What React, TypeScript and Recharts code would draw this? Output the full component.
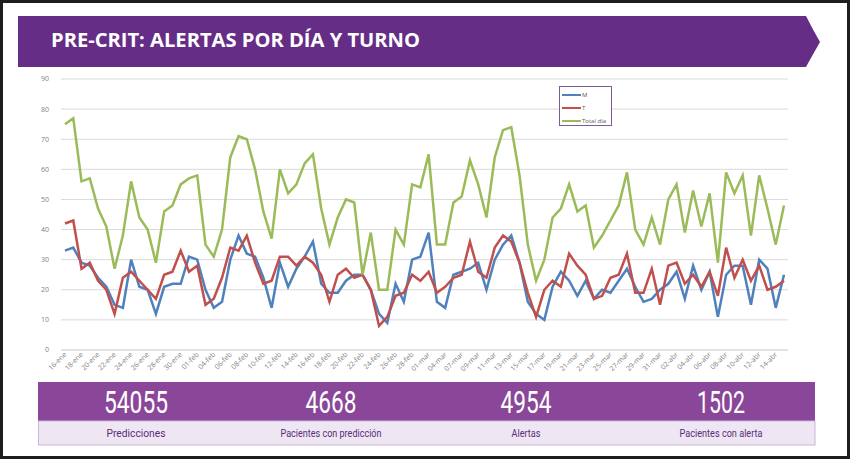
import { LineChart, Line, XAxis, YAxis, CartesianGrid } from 'recharts';

const dates = [
  '16-ene', '17-ene', '18-ene', '19-ene', '20-ene', '21-ene', '22-ene', '23-ene', '24-ene', '25-ene',
  '26-ene', '27-ene', '28-ene', '29-ene', '30-ene', '31-ene', '01-feb', '03-feb', '04-feb', '05-feb',
  '06-feb', '07-feb', '08-feb', '09-feb', '10-feb', '11-feb', '12-feb', '13-feb', '14-feb', '15-feb',
  '16-feb', '17-feb', '18-feb', '19-feb', '20-feb', '21-feb', '22-feb', '23-feb', '24-feb', '25-feb',
  '26-feb', '27-feb', '28-feb', '29-feb', '01-mar', '03-mar', '04-mar', '06-mar', '07-mar', '08-mar',
  '09-mar', '10-mar', '11-mar', '12-mar', '13-mar', '14-mar', '15-mar', '16-mar', '17-mar', '18-mar',
  '19-mar', '20-mar', '21-mar', '22-mar', '23-mar', '24-mar', '25-mar', '26-mar', '27-mar', '28-mar',
  '29-mar', '30-mar', '31-mar', '01-abr', '02-abr', '03-abr', '04-abr', '05-abr', '06-abr', '07-abr',
  '08-abr', '09-abr', '10-abr', '11-abr', '12-abr', '13-abr', '14-abr', '15-abr',
];

const manana = [
  33, 34, 29, 28, 24, 21, 15, 14, 30, 21,
  20, 12, 21, 22, 22, 31, 30, 20, 14, 16,
  30, 38, 32, 31, 24, 14, 29, 21, 27, 31,
  36, 22, 19, 19, 23, 25, 25, 20, 12, 9,
  22, 16, 30, 31, 39, 16, 14, 25, 26, 27,
  29, 20, 30, 35, 38, 29, 16, 12, 10, 21,
  26, 23, 18, 23, 17, 20, 19, 23, 27, 21,
  16, 17, 20, 22, 26, 17, 28, 20, 26, 11,
  25, 28, 28, 15, 30, 27, 14, 25,
];

const tarde = [
  42, 43, 27, 29, 23, 20, 12, 24, 26, 23,
  20, 17, 25, 26, 33, 26, 28, 15, 17, 24,
  34, 33, 38, 29, 22, 23, 31, 31, 28, 31,
  29, 25, 16, 25, 27, 24, 25, 20, 8, 11,
  18, 19, 25, 23, 26, 19, 21, 24, 25, 36,
  26, 24, 34, 38, 36, 29, 19, 11, 20, 23,
  21, 32, 28, 25, 17, 18, 24, 25, 32, 19,
  19, 27, 15, 28, 29, 22, 25, 21, 26, 18,
  34, 24, 30, 23, 28, 20, 21, 23,
];

const totalDia = [
  75, 77, 56, 57, 47, 41, 27, 38, 56, 44,
  40, 29, 46, 48, 55, 57, 58, 35, 31, 40,
  64, 71, 70, 60, 46, 37, 60, 52, 55, 62,
  65, 47, 35, 44, 50, 49, 25, 39, 20, 20,
  40, 35, 55, 54, 65, 35, 35, 49, 51, 63,
  55, 44, 64, 73, 74, 58, 35, 23, 30, 44,
  47, 55, 46, 48, 34, 38, 43, 48, 59, 40,
  35, 44, 35, 50, 55, 39, 53, 41, 52, 29,
  59, 52, 58, 38, 58, 47, 35, 48,
];

const yTicks = [0, 10, 20, 30, 40, 50, 60, 70, 80, 90];

const kpiValues = ['54055', '4668', '4954', '1502'];
const kpiLabels = ['Predicciones', 'Pacientes con predicción', 'Alertas', 'Pacientes con alerta'];

const BLUE = '#4F81BD';
const RED = '#C0504D';
const GREEN = '#9BBB59';
const PURPLE_DARK = '#652D86';
const PURPLE_KPI = '#8A4799';

const chartData = dates.map((d, i) => ({
  date: d,
  M: manana[i],
  T: tarde[i],
  total: totalDia[i],
}));

const DateTick = ({ x, y, payload }: any) => (
  <text
    x={x + 2}
    y={y + 3}
    transform={`rotate(-45, ${x + 2}, ${y + 3})`}
    textAnchor="end"
    fontSize={7}
    fill="#7f7f7f"
    fontFamily="'Open Sans', sans-serif"
  >
    {payload.value}
  </text>
);

const legendItems = [
  { name: 'M', color: BLUE },
  { name: 'T', color: RED },
  { name: 'Total día', color: GREEN },
];

// legend box drawn on top of the plot, like the excel one
const LegendBox = () => (
  <div
    style={{
      position: 'absolute',
      left: 559,
      top: 86,
      width: 53,
      height: 40,
      border: '1px solid #7a5c99',
      background: '#fff',
      fontFamily: "'Open Sans', sans-serif",
      fontSize: 6,
      lineHeight: '6px',
      color: '#595959',
      paddingTop: 1,
      boxSizing: 'border-box',
    }}
  >
    {legendItems.map((it) => (
      <div key={it.name} style={{ display: 'flex', alignItems: 'center', height: 13 }}>
        <span style={{ display: 'inline-block', width: 19, height: 2, background: it.color, marginLeft: 2, marginRight: 1 }} />
        <span>{it.name}</span>
      </div>
    ))}
  </div>
);

const kpiCenters = [136, 331, 526, 721];
const kpiValueWidths = [64, 51, 51, 48];
const kpiLabelWidths = [59, 101, 29, 83];

export default function App() {
  return (
    <div style={{ position: 'fixed', left: 0, top: 0, width: 850, height: 459, background: '#1e1e1e', overflow: 'hidden' }}>
      <div style={{ position: 'absolute', left: 3, top: 3, width: 844, height: 453, background: '#fff' }} />

      <div style={{ position: 'absolute', left: 0, top: 0 }}>
        <LineChart
          width={850}
          height={400}
          data={chartData}
          margin={{ top: 79, right: 62, bottom: 20, left: 41 }}
        >
          <CartesianGrid vertical={false} stroke="#d9d9d9" />
          <XAxis
            dataKey="date"
            interval={1}
            tick={<DateTick />}
            tickLine={false}
            tickSize={0}
            tickMargin={2}
            height={30}
            axisLine={{ stroke: '#d9d9d9' }}
            padding={{ left: 4, right: 4 }}
          />
          <YAxis
            domain={[0, 90]}
            ticks={yTicks}
            width={20}
            tickLine={false}
            axisLine={false}
            tickMargin={6}
            tick={{ fontSize: 7, fill: '#7f7f7f', fontFamily: "'Open Sans', sans-serif" }}
          />
          <Line type="linear" dataKey="M" name="M" stroke={BLUE} strokeWidth={2.5} dot={false} isAnimationActive={false} />
          <Line type="linear" dataKey="T" name="T" stroke={RED} strokeWidth={2.5} dot={false} isAnimationActive={false} />
          <Line type="linear" dataKey="total" name="Total día" stroke={GREEN} strokeWidth={2.5} dot={false} isAnimationActive={false} />
        </LineChart>
      </div>

      <LegendBox />

      <svg width={850} height={459} style={{ position: 'absolute', left: 0, top: 0, pointerEvents: 'none' }}>
        {/* title banner */}
        <path d="M18 16 L806 16 Q812 28 820 42 Q812 56 806 67 L18 67 Z" fill={PURPLE_DARK} />
        <text
          x={51}
          y={47}
          fill="#fff"
          fontSize={20}
          fontWeight={700}
          fontFamily="'Open Sans', sans-serif"
          textLength={369}
          lengthAdjust="spacingAndGlyphs"
        >
          PRE-CRIT: ALERTAS POR DÍA Y TURNO
        </text>

        {/* KPI strip */}
        <rect x={38} y={382} width={777} height={39} fill={PURPLE_KPI} />
        <rect x={38.5} y={421} width={776.5} height={24} fill="#EEE6F2" stroke="#C9B6D6" />
        {kpiValues.map((v, i) => (
          <text
            key={v}
            x={kpiCenters[i]}
            y={413}
            textAnchor="middle"
            fill="#fff"
            fontSize={31}
            fontFamily="Roboto, sans-serif"
            textLength={kpiValueWidths[i]}
            lengthAdjust="spacingAndGlyphs"
          >
            {v}
          </text>
        ))}
        {kpiLabels.map((l, i) => (
          <text
            key={l}
            x={kpiCenters[i]}
            y={437}
            textAnchor="middle"
            fill="#5B2C7A"
            fontSize={11.5}
            fontFamily="Roboto, sans-serif"
            textLength={kpiLabelWidths[i]}
            lengthAdjust="spacingAndGlyphs"
          >
            {l}
          </text>
        ))}
      </svg>
    </div>
  );
}
